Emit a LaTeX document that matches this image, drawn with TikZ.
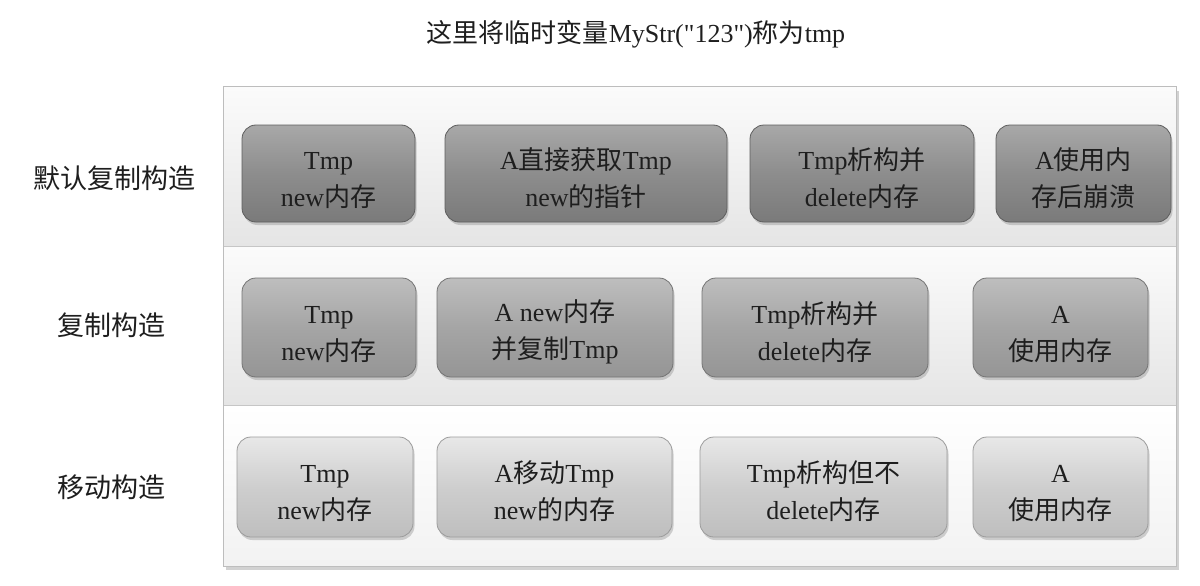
\documentclass[tikz,border=0pt]{standalone}
\usepackage{fontspec}
\setmainfont{Liberation Serif}
\newfontfamily\cjk{Noto Sans CJK SC}
\newfontfamily\lat{Liberation Serif}
\usetikzlibrary{shadows}
\newcommand\zh[1]{{\cjk #1}}
\newcommand\lowstrut{\rule{0pt}{31pt}}
\definecolor{txt}{HTML}{1E1E1E}
\definecolor{frameC}{HTML}{BDBDBD}
\definecolor{sepC}{HTML}{C6C6C6}
\definecolor{aTop}{HTML}{A8A8A8}
\definecolor{aMid}{HTML}{8D8D8D}
\definecolor{aBot}{HTML}{7A7A7A}
\definecolor{aBd}{HTML}{5E5E5E}
\definecolor{bTop}{HTML}{BEBEBE}
\definecolor{bMid}{HTML}{A5A5A5}
\definecolor{bBot}{HTML}{959595}
\definecolor{bBd}{HTML}{747474}
\definecolor{cTop}{HTML}{E8E8E8}
\definecolor{cMid}{HTML}{CECECE}
\definecolor{cBot}{HTML}{BEBEBE}
\definecolor{cBd}{HTML}{9C9C9C}
\definecolor{bandTop}{HTML}{FBFBFB}
\definecolor{bandBot}{HTML}{E5E5E5}
\definecolor{bandBotC}{HTML}{F2F2F2}
\begin{document}
\begin{tikzpicture}[x=1pt,y=-1pt,
  every node/.style={inner sep=0pt, text=txt},
  boxbase/.style={rectangle, rounded corners=14pt, align=center,
    font=\fontsize{26}{37}\selectfont, line width=0.8pt,
    drop shadow={opacity=0.35, shadow xshift=1.5pt, shadow yshift=-3pt}},
  boxA/.style={boxbase, draw=aBd, top color=aTop, bottom color=aBot, middle color=aMid},
  boxB/.style={boxbase, draw=bBd, top color=bTop, bottom color=bBot, middle color=bMid},
  boxC/.style={boxbase, draw=cBd, top color=cTop, bottom color=cBot, middle color=cMid},
  rowlabel/.style={font=\fontsize{27}{32}\selectfont\cjk},
  titlestyle/.style={font=\fontsize{26}{30}\selectfont}
]
\useasboundingbox (0,0) rectangle (1200,586);
\fill[white] (0,0) rectangle (1200,586);

% title
\node[titlestyle] (title) at (636,34) {\zh{这里将临时变量}{\lat MyStr("123")}\zh{称为}tmp};

% frame and bands
\fill[black!18] (226,91) rectangle (1179,570);
\shade[top color=bandTop, bottom color=bandBot] (223,87) rectangle (1176,246);
\shade[top color=bandTop, bottom color=bandBot] (223,246) rectangle (1176,405);
\shade[top color=white, bottom color=bandBotC] (223,405) rectangle (1176,566);
\draw[sepC, line width=1pt] (223,246) -- (1176,246);
\draw[sepC, line width=1pt] (223,405) -- (1176,405);
\draw[frameC, line width=1pt] (223,87) rectangle (1176,566);

% row labels
\node[rowlabel] (l1) at (115,178) {默认复制构造};
\node[rowlabel] (l2) at (111,325) {复制构造};
\node[rowlabel] (l3) at (111,487) {移动构造};

% row 1
\node[boxA, minimum width=173pt, minimum height=97pt] (r1a) at (328.5,173.5) {\lowstrut Tmp\\new\zh{内存}};
\node[boxA, minimum width=282pt, minimum height=97pt] (r1b) at (586,173.5) {\lowstrut A\zh{直接获取}Tmp\\new\zh{的指针}};
\node[boxA, minimum width=224pt, minimum height=97pt] (r1c) at (862,173.5) {\lowstrut Tmp\zh{析构并}\\delete\zh{内存}};
\node[boxA, minimum width=175pt, minimum height=97pt] (r1d) at (1083.5,173.5) {\lowstrut A\zh{使用内}\\\zh{存后崩溃}};

% row 2
\node[boxB, minimum width=174pt, minimum height=99pt] (r2a) at (329,327.5) {\lowstrut Tmp\\new\zh{内存}};
\node[boxB, minimum width=236pt, minimum height=99pt] (r2b) at (555,327.5) {\lowstrut A new\zh{内存}\\\zh{并复制}Tmp};
\node[boxB, minimum width=226pt, minimum height=99pt] (r2c) at (815,327.5) {\lowstrut Tmp\zh{析构并}\\delete\zh{内存}};
\node[boxB, minimum width=175pt, minimum height=99pt] (r2d) at (1060.5,327.5) {\lowstrut A\\\zh{使用内存}};

% row 3
\node[boxC, minimum width=176pt, minimum height=100pt] (r3a) at (325,487) {\lowstrut Tmp\\new\zh{内存}};
\node[boxC, minimum width=235pt, minimum height=100pt] (r3b) at (554.5,487) {\lowstrut A\zh{移动}Tmp\\new\zh{的内存}};
\node[boxC, minimum width=247pt, minimum height=100pt] (r3c) at (823.5,487) {\lowstrut Tmp\zh{析构但不}\\delete\zh{内存}};
\node[boxC, minimum width=175pt, minimum height=100pt] (r3d) at (1060.5,487) {\lowstrut A\\\zh{使用内存}};
\end{tikzpicture}
\end{document}
